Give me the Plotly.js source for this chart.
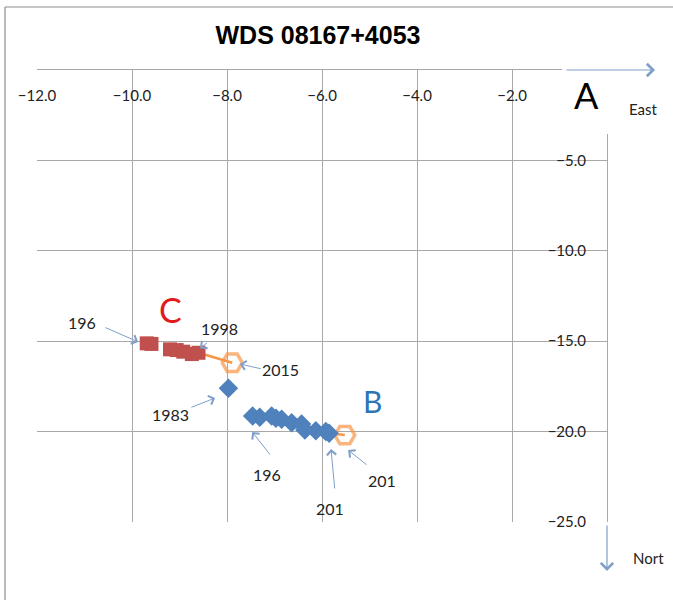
<!DOCTYPE html>
<html><head><meta charset="utf-8">
<script src="https://cdn.plot.ly/plotly-3.0.1.min.js"></script>
<style>html,body{margin:0;padding:0;background:#fff}#chart{width:673px;height:600px}</style>
</head><body><div id="chart"></div>
<script>
// Component C (red squares)
const cX = [-9.69, -9.59, -9.20, -9.06, -8.92, -8.74, -8.60];
const cY = [-15.12, -15.15, -15.45, -15.49, -15.58, -15.71, -15.64];
// Component B (blue diamonds)
const bX = [-7.97, -7.46, -7.31, -7.06, -6.97, -6.85, -6.64, -6.43, -6.36, -6.13, -5.92, -5.85];
const bY = [-17.60, -19.14, -19.21, -19.14, -19.26, -19.32, -19.51, -19.58, -19.91, -19.95, -20.00, -20.09];
// 2015 positions (orange hexagons) joined to the last measures
const cLinkX = [-8.60, -7.89];
const cLinkY = [-15.64, -16.19];
const bLinkX = [-5.85, -5.52];
const bLinkY = [-20.09, -20.19];
// axis ticks
const xTicks = [-12, -10, -8, -6, -4, -2];
const yTicks = [-25, -20, -15, -10, -5];
// labels with arrows
const noteText = ["196", "1998", "2015", "1983", "196", "201", "201"];
const noteX = [-11.05, -8.15, -6.88, -9.20, -7.16, -5.83, -4.74];
const noteY = [-13.99, -14.27, -16.54, -19.03, -22.35, -24.23, -22.68];
const tailX = [-10.59, -8.39, -7.26, -8.78, -7.07, -5.73, -5.03];
const tailY = [-14.21, -15.03, -16.54, -18.69, -21.35, -23.23, -21.90];
const tipX = [-9.87, -8.57, -7.73, -8.25, -7.47, -5.81, -5.45];
const tipY = [-15.04, -15.39, -16.26, -18.14, -20.02, -20.96, -21.02];

const txtFont = 'Lato, "Open Sans", sans-serif';
const arrowCol = '#7f9fc8';
const grid = '#a8a8a8';

const traces = [
  {x: cLinkX, y: cLinkY, mode: 'lines+markers', type: 'scatter',
   line: {color: '#f79646', width: 2.5},
   marker: {symbol: ['circle', 'hexagon2-open'], size: [0, 20], color: '#f79646', line: {width: 3.5, color: '#f79646'}}},
  {x: bLinkX, y: bLinkY, mode: 'lines+markers', type: 'scatter',
   line: {color: '#f79646', width: 2.5},
   marker: {symbol: ['circle', 'hexagon2-open'], size: [0, 20], color: '#f79646', line: {width: 3.5, color: '#f79646'}}},
  {x: cX, y: cY, mode: 'markers', type: 'scatter',
   marker: {symbol: 'square', size: 14, color: '#c0504d'}},
  {x: bX, y: bY, mode: 'markers', type: 'scatter',
   marker: {symbol: 'diamond', size: 15, color: '#4f81bd'}}
];

const annotations = [];
for (let i = 0; i < noteText.length; i++) {
  annotations.push({x: noteX[i], y: noteY[i], xref: 'x', yref: 'y', text: noteText[i], showarrow: false,
    xanchor: 'center', yanchor: 'middle', font: {family: txtFont, size: 16, color: '#222'}});
  annotations.push({x: tipX[i], y: tipY[i], ax: tailX[i], ay: tailY[i], xref: 'x', yref: 'y', axref: 'x', ayref: 'y',
    text: '', showarrow: true, arrowhead: 4, arrowsize: 1.8, arrowwidth: 1, arrowcolor: arrowCol, standoff: 0, startstandoff: 0});
}
annotations.push({x: -9.2, y: -13.27, xref: 'x', yref: 'y', text: 'C', showarrow: false, xanchor: 'center', yanchor: 'middle',
  font: {family: txtFont, size: 34, color: '#e31a1c'}});
annotations.push({x: -4.93, y: -18.31, xref: 'x', yref: 'y', text: 'B', showarrow: false, xanchor: 'center', yanchor: 'middle',
  font: {family: txtFont, size: 30, color: '#2e75b6'}});
annotations.push({x: (586 - 37) / 570, y: (522 - 95) / 452, xref: 'paper', yref: 'paper', text: 'A', showarrow: false,
  xanchor: 'center', yanchor: 'middle', font: {family: txtFont, size: 36, color: '#000'}});
annotations.push({x: (643 - 37) / 570, y: (522 - 109) / 452, xref: 'paper', yref: 'paper', text: 'East', showarrow: false,
  xanchor: 'center', yanchor: 'middle', font: {family: txtFont, size: 15, color: '#222'}});
annotations.push({x: (648 - 37) / 570, y: (522 - 558) / 452, xref: 'paper', yref: 'paper', text: 'Nort', showarrow: false,
  xanchor: 'center', yanchor: 'middle', font: {family: txtFont, size: 15, color: '#222'}});
annotations.push({x: (655 - 37) / 570, y: 1.0, xref: 'paper', yref: 'paper', ax: -90, ay: 0, text: '', showarrow: true,
  arrowhead: 4, arrowsize: 2, arrowwidth: 1.2, arrowcolor: arrowCol, standoff: 0, startstandoff: 0});
annotations.push({x: 1.0, y: (522 - 571) / 452, xref: 'paper', yref: 'paper', ax: 0, ay: -47, text: '', showarrow: true,
  arrowhead: 4, arrowsize: 2, arrowwidth: 1.2, arrowcolor: arrowCol, standoff: 0, startstandoff: 0});

const layout = {
  width: 673, height: 600,
  margin: {l: 37, r: 66, t: 70, b: 78},
  paper_bgcolor: '#fff', plot_bgcolor: '#fff',
  showlegend: false,
  title: {text: '<b>WDS 08167+4053</b>', x: 318 / 673, xanchor: 'center', y: 1 - 35 / 600, yanchor: 'middle',
    font: {family: '"Liberation Sans", Arial, sans-serif', size: 25, color: '#000'}},
  xaxis: {range: [-12, 0], side: 'top', tickvals: xTicks, tickformat: '.1f', ticklabelposition: 'inside',
    ticklabeloverflow: 'allow', showgrid: true, gridcolor: grid, gridwidth: 1, zeroline: false,
    showline: true, linecolor: grid, linewidth: 1, ticks: '', ticklabelstandoff: 20,
    tickfont: {family: txtFont, size: 15, color: '#222'}, fixedrange: true},
  yaxis: {range: [-25, 0], side: 'right', tickvals: yTicks, tickformat: '.1f', ticklabelposition: 'inside',
    ticklabeloverflow: 'allow', showgrid: true, gridcolor: grid, gridwidth: 1, zeroline: false,
    showline: true, linecolor: grid, linewidth: 1, ticks: '', ticklabelstandoff: 21,
    tickfont: {family: txtFont, size: 15, color: '#222'}, fixedrange: true},
  shapes: [
    {type: 'rect', xref: 'paper', yref: 'paper', x0: (562 - 37) / 570, x1: (640 - 37) / 570, y0: (522 - 134) / 452, y1: (522 - 66) / 452,
     fillcolor: '#fff', line: {width: 0}, layer: 'above'},
    {type: 'rect', xref: 'x', yref: 'y', x0: -9.35, x1: -8.7, y0: -14.55, y1: -13.75,
     fillcolor: '#fff', line: {width: 0}, layer: 'above'},
    {type: 'line', xref: 'paper', yref: 'paper', x0: -0.0561, x1: -0.0561, y0: -0.18, y1: 1.1394,
     line: {color: '#8c8c8c', width: 1.2}},
    {type: 'line', xref: 'paper', yref: 'paper', x0: -0.0561, x1: 1.12, y0: 1.1394, y1: 1.1394,
     line: {color: '#8c8c8c', width: 1.2}}
  ],
  annotations: annotations
};

Plotly.newPlot('chart', traces, layout, {displayModeBar: false, staticPlot: true});
</script></body></html>
